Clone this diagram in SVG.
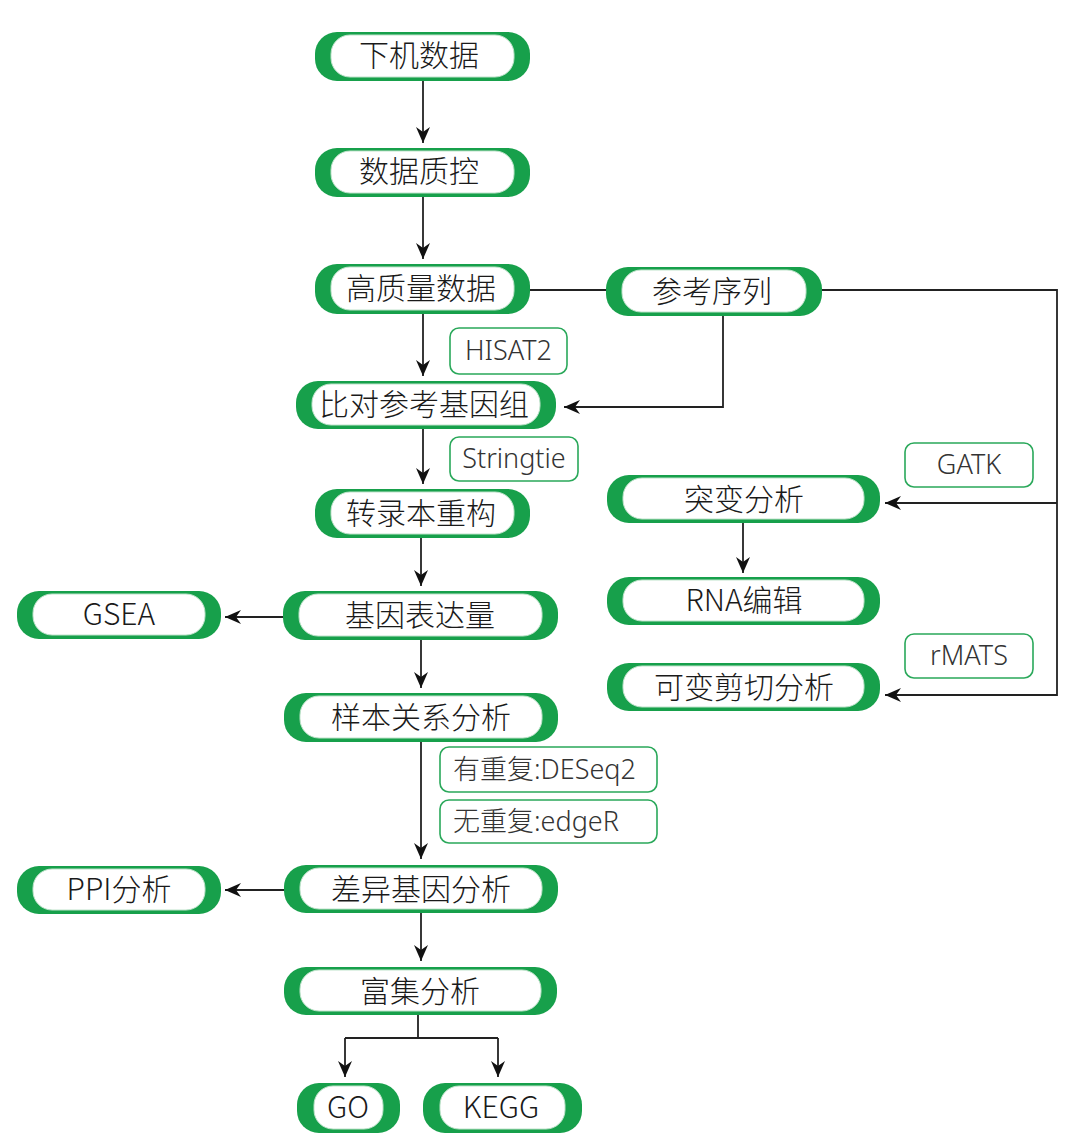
<svg xmlns="http://www.w3.org/2000/svg" width="1080" height="1147" viewBox="0 0 1080 1147">
<defs>
<style>
.outer{fill:#17a04b}
.inner{fill:#ffffff;stroke:#bfe3cb;stroke-width:1}
.t{font-family:"Noto Sans CJK SC","Noto Sans",sans-serif;font-size:30px;font-weight:300;fill:#1a1a1a;text-anchor:middle}
.lb{fill:#ffffff;stroke:#2aa85a;stroke-width:1.6}
.lt{font-family:"Noto Sans","Noto Sans CJK SC",sans-serif;font-size:27px;font-weight:300;fill:#333333;text-anchor:middle}
.c{fill:none;stroke:#222222;stroke-width:1.8}
</style>
<marker id="ah" markerUnits="userSpaceOnUse" markerWidth="16" markerHeight="14" refX="16" refY="7" orient="auto">
<path d="M0,0 L16,7 L0,14 L5,7 z" fill="#111111"/>
</marker>
</defs>
<rect width="1080" height="1147" fill="#ffffff"/>

<g id="connectors">
<path class="c" d="M423,81 V143" marker-end="url(#ah)"/>
<path class="c" d="M423,197 V259" marker-end="url(#ah)"/>
<path class="c" d="M423,314 V376" marker-end="url(#ah)"/>
<path class="c" d="M423,429 V484" marker-end="url(#ah)"/>
<path class="c" d="M421,538 V586" marker-end="url(#ah)"/>
<path class="c" d="M421,640 V688" marker-end="url(#ah)"/>
<path class="c" d="M421,742 V859" marker-end="url(#ah)"/>
<path class="c" d="M421,913 V961" marker-end="url(#ah)"/>
<path class="c" d="M418,1015 V1038 M345,1038 H498"/>
<path class="c" d="M345,1038 V1077" marker-end="url(#ah)"/>
<path class="c" d="M498,1038 V1077" marker-end="url(#ah)"/>
<path class="c" d="M283,617 H225" marker-end="url(#ah)"/>
<path class="c" d="M284,890 H225" marker-end="url(#ah)"/>
<path class="c" d="M530,290 H606"/>
<path class="c" d="M723,316 V407 H564" marker-end="url(#ah)"/>
<path class="c" d="M822,290 H1057 V695 H885" marker-end="url(#ah)"/>
<path class="c" d="M1057,503 H885" marker-end="url(#ah)"/>
<path class="c" d="M743,523 V573" marker-end="url(#ah)"/>
</g>

<g id="n1"><rect class="outer" x="315" y="32" width="215" height="49" rx="22"/><rect class="inner" x="331" y="35" width="183" height="42" rx="19"/><text class="t" x="419" y="66">下机数据</text></g>
<g id="n2"><rect class="outer" x="315" y="148" width="215" height="49" rx="22"/><rect class="inner" x="331" y="151" width="183" height="42" rx="19"/><text class="t" x="419" y="182">数据质控</text></g>
<g id="n3"><rect class="outer" x="315" y="264" width="215" height="50" rx="22"/><rect class="inner" x="331" y="267" width="183" height="43" rx="19"/><text class="t" x="421" y="299">高质量数据</text></g>
<g id="n4"><rect class="outer" x="606" y="267" width="216" height="49" rx="22"/><rect class="inner" x="622" y="270" width="184" height="42" rx="19"/><text class="t" x="712" y="302">参考序列</text></g>
<g id="n5"><rect class="outer" x="296" y="381" width="260" height="48" rx="22"/><rect class="inner" x="312" y="384" width="228" height="41" rx="19"/><text class="t" x="424" y="415">比对参考基因组</text></g>
<g id="n6"><rect class="outer" x="315" y="489" width="215" height="49" rx="22"/><rect class="inner" x="331" y="492" width="183" height="42" rx="19"/><text class="t" x="421" y="524">转录本重构</text></g>
<g id="n7"><rect class="outer" x="283" y="591" width="275" height="49" rx="22"/><rect class="inner" x="299" y="594" width="243" height="42" rx="19"/><text class="t" x="420" y="626">基因表达量</text></g>
<g id="n8"><rect class="outer" x="17" y="591" width="204" height="48" rx="22"/><rect class="inner" x="33" y="594" width="172" height="41" rx="19"/><text class="t" x="119" y="625">GSEA</text></g>
<g id="n9"><rect class="outer" x="284" y="693" width="274" height="49" rx="22"/><rect class="inner" x="300" y="696" width="242" height="42" rx="19"/><text class="t" x="421" y="728">样本关系分析</text></g>
<g id="n10"><rect class="outer" x="284" y="865" width="274" height="48" rx="22"/><rect class="inner" x="300" y="868" width="242" height="41" rx="19"/><text class="t" x="421" y="900">差异基因分析</text></g>
<g id="n11"><rect class="outer" x="17" y="866" width="204" height="48" rx="22"/><rect class="inner" x="33" y="869" width="172" height="41" rx="19"/><text class="t" x="119" y="900">PPI分析</text></g>
<g id="n12"><rect class="outer" x="284" y="967" width="273" height="48" rx="22"/><rect class="inner" x="300" y="970" width="241" height="41" rx="19"/><text class="t" x="420" y="1002">富集分析</text></g>
<g id="n13"><rect class="outer" x="297" y="1083" width="103" height="50" rx="22"/><rect class="inner" x="314" y="1086" width="69" height="43" rx="19"/><text class="t" x="348" y="1118">GO</text></g>
<g id="n14"><rect class="outer" x="423" y="1083" width="159" height="50" rx="22"/><rect class="inner" x="440" y="1086" width="125" height="43" rx="19"/><text class="t" x="501" y="1118">KEGG</text></g>
<g id="n15"><rect class="outer" x="607" y="475" width="273" height="48" rx="22"/><rect class="inner" x="623" y="478" width="241" height="41" rx="19"/><text class="t" x="744" y="510">突变分析</text></g>
<g id="n16"><rect class="outer" x="607" y="577" width="273" height="48" rx="22"/><rect class="inner" x="623" y="580" width="241" height="41" rx="19"/><text class="t" x="744" y="611">RNA编辑</text></g>
<g id="n17"><rect class="outer" x="607" y="663" width="273" height="48" rx="22"/><rect class="inner" x="623" y="666" width="241" height="41" rx="19"/><text class="t" x="744" y="698">可变剪切分析</text></g>

<g id="l1"><rect class="lb" x="450" y="328" width="117" height="46" rx="9"/><text class="lt" x="508.5" y="360">HISAT2</text></g>
<g id="l2"><rect class="lb" x="450" y="437" width="128" height="44" rx="9"/><text class="lt" x="514" y="468">Stringtie</text></g>
<g id="l3"><rect class="lb" x="905" y="443" width="128" height="44" rx="9"/><text class="lt" x="969" y="474">GATK</text></g>
<g id="l4"><rect class="lb" x="905" y="634" width="128" height="44" rx="9"/><text class="lt" x="969" y="665">rMATS</text></g>
<g id="l5"><rect class="lb" x="440" y="747" width="217" height="45" rx="9"/><text class="lt" x="453" y="779" style="text-anchor:start">有重复:DESeq2</text></g>
<g id="l6"><rect class="lb" x="440" y="800" width="217" height="43" rx="9"/><text class="lt" x="453" y="831" style="text-anchor:start">无重复:edgeR</text></g>
</svg>
